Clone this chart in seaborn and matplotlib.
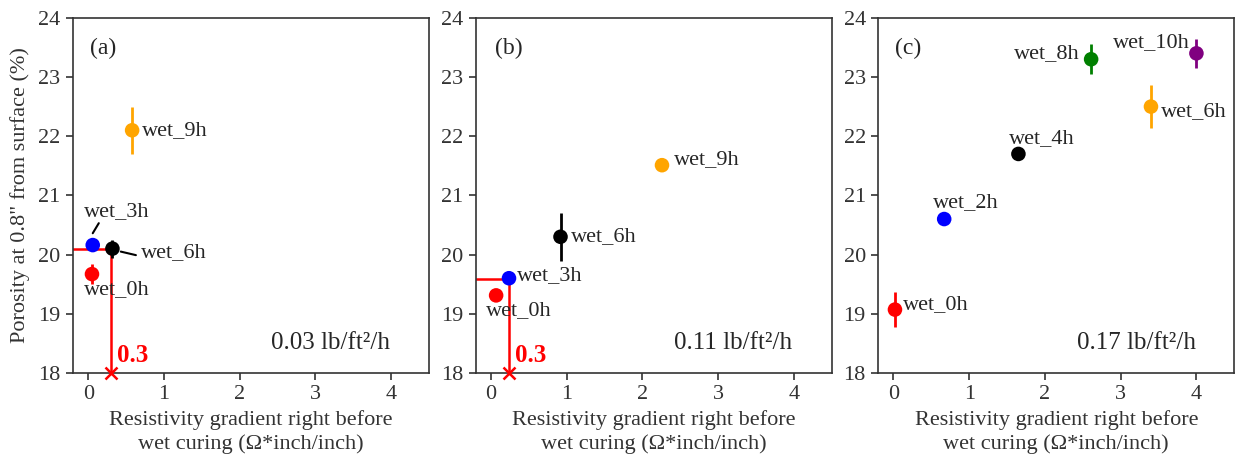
import numpy as np
import pandas as pd
import matplotlib
matplotlib.use("Agg")
import matplotlib.pyplot as plt
import seaborn as sns

# ---- data ----
a_labels = ["wet_0h", "wet_3h", "wet_6h", "wet_9h"]
a_x = [0.05, 0.06, 0.32, 0.58]
a_y = [19.67, 20.16, 20.10, 22.10]
a_err = [0.17, 0.08, 0.15, 0.40]

b_labels = ["wet_0h", "wet_3h", "wet_6h", "wet_9h"]
b_x = [0.07, 0.24, 0.92, 2.26]
b_y = [19.31, 19.60, 20.30, 21.51]
b_err = [0.05, 0.05, 0.41, 0.05]

c_labels = ["wet_0h", "wet_2h", "wet_4h", "wet_8h", "wet_6h", "wet_10h"]
c_x = [0.02, 0.67, 1.65, 2.61, 3.40, 4.00]
c_y = [19.07, 20.60, 21.70, 23.30, 22.50, 23.40]
c_err = [0.29, 0.04, 0.04, 0.25, 0.36, 0.24]

rates = ["0.03 lb/ft²/h", "0.11 lb/ft²/h", "0.17 lb/ft²/h"]
panel_tags = ["(a)", "(b)", "(c)"]
threshold_x = [0.30, 0.24]
threshold_y = [20.10, 19.58]
threshold_text = "0.3"

colors = {"wet_0h": "#ff0000", "wet_2h": "#0000ff", "wet_3h": "#0000ff",
          "wet_4h": "#000000", "wet_6h": "#000000", "wet_8h": "#008000",
          "wet_9h": "#ffa500", "wet_10h": "#800080"}
colors_c = dict(colors)
colors_c["wet_6h"] = "#ffa500"

sns.set_theme(style="ticks")
plt.rcParams["font.family"] = ["Liberation Serif", "DejaVu Serif"]
plt.rcParams["axes.edgecolor"] = "#333333"
plt.rcParams["xtick.color"] = "#333333"
plt.rcParams["ytick.color"] = "#333333"

fig, axes = plt.subplots(1, 3, figsize=(12.38, 4.57), dpi=100)
fig.subplots_adjust(left=0.059, right=0.997, top=0.961, bottom=0.184, wspace=0.131)

panels = [
    (a_labels, a_x, a_y, a_err, colors),
    (b_labels, b_x, b_y, b_err, colors),
    (c_labels, c_x, c_y, c_err, colors_c),
]

fs = 16
for i, (ax, (labs, xs, ys, es, pal)) in enumerate(zip(axes, panels)):
    df = pd.DataFrame({"label": labs, "x": xs, "y": ys, "err": es})
    for _, r in df.iterrows():
        ax.errorbar(r["x"], r["y"], yerr=r["err"], fmt="none",
                    ecolor=pal[r["label"]], elinewidth=2, capsize=0, zorder=2)
    sns.scatterplot(data=df, x="x", y="y", hue="label", palette=pal, s=110,
                    linewidth=0, legend=False, ax=ax, zorder=3)
    ax.set_xlim(-0.2, 4.5)
    ax.set_ylim(18, 24)
    ax.set_xticks([0, 1, 2, 3, 4])
    ax.set_yticks([18, 19, 20, 21, 22, 23, 24])
    ax.tick_params(labelsize=fs, length=5, width=1.2, pad=4)
    for s in ax.spines.values():
        s.set_linewidth(1.2)
    ax.set_xlabel("Resistivity gradient right before\nwet curing (Ω*inch/inch)",
                  fontsize=fs, color="#333333", linespacing=1.3, labelpad=4)
    ax.set_ylabel("")
    ax.text(2.42, 18.5, rates[i], fontsize=fs + 2, va="center", ha="left")
    ax.text(0.02 if i != 1 else 0.05, 23.48, panel_tags[i], fontsize=fs + 1,
            va="center", ha="left")

axes[0].set_ylabel('Porosity at 0.8" from surface (%)', fontsize=fs, color="#333333",
                   labelpad=6)

# threshold lines
for ax, tx, ty in zip(axes[:2], threshold_x, threshold_y):
    ax.plot([-0.2, tx], [ty, ty], color="#ff0000", lw=1.8, zorder=1)
    ax.plot([tx, tx], [ty, 18], color="#ff0000", lw=1.8, zorder=1)
    ax.plot([tx], [18], marker="x", color="#ff0000", ms=9, mew=1.8, clip_on=False, zorder=4)
    ax.text(tx + 0.08, 18.3, threshold_text, color="#ff0000", fontsize=fs + 2,
            fontweight="bold", va="center", ha="left")

# annotations panel (a)
ax = axes[0]
ax.text(0.715, 22.1, "wet_9h", fontsize=fs, va="center")
ax.text(-0.05, 20.72, "wet_3h", fontsize=fs, va="center")
ax.plot([0.06, 0.14], [20.36, 20.53], color="black", lw=1.5)
ax.text(0.70, 20.03, "wet_6h", fontsize=fs, va="center")
ax.plot([0.43, 0.63], [20.05, 19.99], color="black", lw=1.5)
ax.text(-0.05, 19.40, "wet_0h", fontsize=fs, va="center")

# panel (b)
ax = axes[1]
ax.text(2.42, 21.6, "wet_9h", fontsize=fs, va="center")
ax.text(1.06, 20.31, "wet_6h", fontsize=fs, va="center")
ax.text(0.35, 19.64, "wet_3h", fontsize=fs, va="center")
ax.text(-0.07, 19.06, "wet_0h", fontsize=fs, va="center")

# panel (c)
ax = axes[2]
ax.text(0.13, 19.15, "wet_0h", fontsize=fs, va="center")
ax.text(0.52, 20.88, "wet_2h", fontsize=fs, va="center")
ax.text(1.53, 21.96, "wet_4h", fontsize=fs, va="center")
ax.text(1.59, 23.40, "wet_8h", fontsize=fs, va="center")
ax.text(2.90, 23.58, "wet_10h", fontsize=fs, va="center")
ax.text(3.53, 22.41, "wet_6h", fontsize=fs, va="center")

fig.savefig("out.png", dpi=100)
